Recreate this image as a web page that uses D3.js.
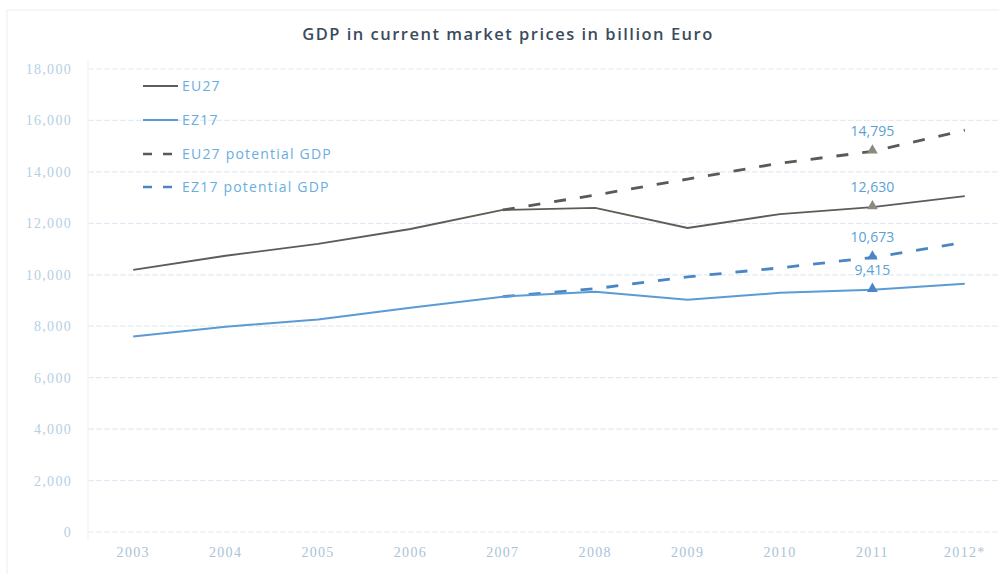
<!DOCTYPE html>
<html><head><meta charset="utf-8">
<script src="https://cdn.jsdelivr.net/npm/d3@7"></script>
<style>
html,body{margin:0;padding:0;background:#fff;}
svg{display:block;}
</style></head>
<body>
<svg id="chart" width="999" height="574"></svg>
<script>
const years = ["2003","2004","2005","2006","2007","2008","2009","2010","2011","2012*"];
const eu27 = [10190, 10740, 11200, 11780, 12520, 12600, 11820, 12360, 12630, 13060];
const ez17 = [7600, 7980, 8260, 8720, 9150, 9340, 9030, 9300, 9415, 9650];
const eu27Potential = [10190, 10740, 11200, 11780, 12520, 13100, 13720, 14340, 14795, 15620];
const ez17Potential = [7600, 7980, 8260, 8720, 9150, 9460, 9920, 10270, 10673, 11260];
const yTicks = [0, 2000, 4000, 6000, 8000, 10000, 12000, 14000, 16000, 18000];
const seriesNames = ["EU27", "EZ17", "EU27 potential GDP", "EZ17 potential GDP"];
const annotated = [
  {year: "2011", value: 14795, label: "14,795", color: "#8c8a80"},
  {year: "2011", value: 12630, label: "12,630", color: "#8c8a80"},
  {year: "2011", value: 10673, label: "10,673", color: "#4a86c5"},
  {year: "2011", value: 9415, label: "9,415", color: "#4a86c5"}
];

const svg = d3.select("#chart");
const x = d3.scaleBand().domain(years).range([87, 1011]).paddingInner(0).paddingOuter(0);
const xc = d => x(d) + x.bandwidth()/2;
const y = d3.scaleLinear().domain([0, 18000]).range([532, 69]);

// faint frame
svg.append("rect").attr("x",7).attr("y",10).attr("width",1000).attr("height",570)
  .attr("fill","none").attr("stroke","#eeeeee").attr("stroke-width",1);

// y axis labels
const yAxis = d3.axisLeft(y).tickValues(yTicks).tickSize(0).tickFormat(d3.format(","));
const gy = svg.append("g").attr("transform","translate(72,0)").call(yAxis);
gy.select(".domain").remove();
gy.selectAll("text").attr("fill","#b5cfe4").attr("font-family","'Liberation Serif', serif")
  .attr("font-size","14px").attr("letter-spacing","1.3px").attr("x",0).attr("dy","0.32em");

// gridlines
svg.append("g").selectAll("line").data(yTicks).join("line")
  .attr("x1",88).attr("x2",999).attr("y1",d=>y(d)).attr("y2",d=>y(d))
  .attr("stroke","#e2ecf5").attr("stroke-width",1.2).attr("stroke-dasharray","6,2");

svg.append("line").attr("x1",88).attr("x2",88).attr("y1",60).attr("y2",540)
  .attr("stroke","#f0f0f0").attr("stroke-width",1);

// x axis
const xAxis = d3.axisBottom(x).tickSize(0);
const gx = svg.append("g").attr("transform","translate(0,553)").call(xAxis);
gx.select(".domain").remove();
gx.selectAll("text").attr("fill","#a9c3d8").attr("font-family","'Liberation Serif', serif")
  .attr("font-size","14px").attr("letter-spacing","1.3px").attr("dy","0.32em").attr("y",0);

// title
svg.append("text").attr("x",508).attr("y",40).attr("text-anchor","middle")
  .attr("font-family","'Open Sans', sans-serif").attr("font-size","16.5px").attr("font-weight","600")
  .attr("fill","#3b4b5e").attr("letter-spacing","1.5px")
  .text("GDP in current market prices in billion Euro");

const line = d3.line().x((d,i)=>xc(years[i])).y(d=>y(d));
function dashedFrom(arr, start){
  return arr.map((v,i)=>({v,i})).filter(d=>d.i>=start);
}
const lineObj = d3.line().x(d=>xc(years[d.i])).y(d=>y(d.v));

svg.append("path").datum(dashedFrom(eu27Potential,4)).attr("d",lineObj)
  .attr("fill","none").attr("stroke","#5a5a58").attr("stroke-width",2.8).attr("stroke-dasharray","12,14");
svg.append("path").datum(dashedFrom(ez17Potential,4)).attr("d",lineObj)
  .attr("fill","none").attr("stroke","#4a86c5").attr("stroke-width",2.8).attr("stroke-dasharray","12,14");

svg.append("path").datum(eu27).attr("d",line)
  .attr("fill","none").attr("stroke","#5c5c5a").attr("stroke-width",1.8);
svg.append("path").datum(ez17).attr("d",line)
  .attr("fill","none").attr("stroke","#5b9bd5").attr("stroke-width",2);

// markers
const tri = d3.symbol().type(d3.symbolTriangle).size(50);
svg.append("g").selectAll("path").data(annotated).join("path")
  .attr("d",tri).attr("transform",d=>`translate(${xc(d.year)},${y(d.value)-1})`)
  .attr("fill",d=>d.color);

svg.append("g").selectAll("text").data(annotated).join("text")
  .attr("x",d=>xc(d.year)).attr("y",d=>y(d.value)-15).attr("text-anchor","middle")
  .attr("font-family","'Open Sans', sans-serif").attr("font-size","14px")
  .attr("fill","#5a9fd6").text(d=>d.label);

// legend
const legendStyles = [
  {color:"#5c5c5a", dash:null, w:1.8},
  {color:"#5b9bd5", dash:null, w:1.8},
  {color:"#5a5a58", dash:"9,11", w:2.4},
  {color:"#4a86c5", dash:"9,11", w:2.4}
];
const legendY = [86, 120, 154, 187];
const lg = svg.append("g");
seriesNames.forEach((name,i)=>{
  const st = legendStyles[i];
  const ln = lg.append("line").attr("x1",143).attr("x2",178).attr("y1",legendY[i]).attr("y2",legendY[i])
    .attr("stroke",st.color).attr("stroke-width",st.w);
  if(st.dash) ln.attr("stroke-dasharray",st.dash);
  lg.append("text").attr("x",182).attr("y",legendY[i]).attr("dy","0.35em")
    .attr("font-family","'Open Sans', sans-serif").attr("font-size","14px")
    .attr("letter-spacing","1.2px")
    .attr("fill","#6aaee0").text(name);
});
</script>
</body></html>
